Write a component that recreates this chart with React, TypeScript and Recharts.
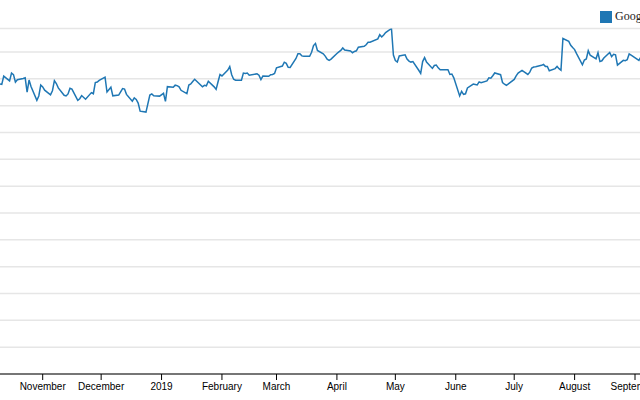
import { LineChart, Line, XAxis, YAxis, CartesianGrid, Legend } from 'recharts'

// GOOG daily close, Oct 2018 - Sep 2019
const dates = [
  '2018-10-10', '2018-10-11', '2018-10-12', '2018-10-15', '2018-10-16', '2018-10-17', '2018-10-18', '2018-10-19', '2018-10-22', '2018-10-23', '2018-10-24', '2018-10-25', '2018-10-26', '2018-10-29', '2018-10-30', '2018-10-31',
  '2018-11-01', '2018-11-02', '2018-11-05', '2018-11-06', '2018-11-07', '2018-11-08', '2018-11-09', '2018-11-12', '2018-11-13', '2018-11-14', '2018-11-15', '2018-11-16', '2018-11-19', '2018-11-20', '2018-11-21', '2018-11-23', '2018-11-26', '2018-11-27', '2018-11-28', '2018-11-29', '2018-11-30',
  '2018-12-03', '2018-12-04', '2018-12-06', '2018-12-07', '2018-12-10', '2018-12-11', '2018-12-12', '2018-12-13', '2018-12-14', '2018-12-17', '2018-12-18', '2018-12-19', '2018-12-20', '2018-12-21', '2018-12-24', '2018-12-26', '2018-12-27', '2018-12-28', '2018-12-31',
  '2019-01-02', '2019-01-03', '2019-01-04', '2019-01-07', '2019-01-08', '2019-01-09', '2019-01-10', '2019-01-11', '2019-01-14', '2019-01-15', '2019-01-16', '2019-01-17', '2019-01-18', '2019-01-22', '2019-01-23', '2019-01-24', '2019-01-25', '2019-01-28', '2019-01-29', '2019-01-30', '2019-01-31',
  '2019-02-01', '2019-02-04', '2019-02-05', '2019-02-06', '2019-02-07', '2019-02-08', '2019-02-11', '2019-02-12', '2019-02-13', '2019-02-14', '2019-02-15', '2019-02-19', '2019-02-20', '2019-02-21', '2019-02-22', '2019-02-25', '2019-02-26', '2019-02-27', '2019-02-28',
  '2019-03-01', '2019-03-04', '2019-03-05', '2019-03-06', '2019-03-07', '2019-03-08', '2019-03-11', '2019-03-12', '2019-03-13', '2019-03-14', '2019-03-15', '2019-03-18', '2019-03-19', '2019-03-20', '2019-03-21', '2019-03-22', '2019-03-25', '2019-03-26', '2019-03-27', '2019-03-28', '2019-03-29',
  '2019-04-01', '2019-04-02', '2019-04-03', '2019-04-04', '2019-04-05', '2019-04-08', '2019-04-09', '2019-04-10', '2019-04-11', '2019-04-12', '2019-04-15', '2019-04-16', '2019-04-17', '2019-04-18', '2019-04-22', '2019-04-23', '2019-04-24', '2019-04-25', '2019-04-26', '2019-04-29', '2019-04-30',
  '2019-05-01', '2019-05-02', '2019-05-03', '2019-05-06', '2019-05-07', '2019-05-08', '2019-05-09', '2019-05-10', '2019-05-13', '2019-05-14', '2019-05-15', '2019-05-16', '2019-05-17', '2019-05-20', '2019-05-21', '2019-05-22', '2019-05-23', '2019-05-24', '2019-05-28', '2019-05-29', '2019-05-30', '2019-05-31',
  '2019-06-03', '2019-06-04', '2019-06-05', '2019-06-06', '2019-06-07', '2019-06-10', '2019-06-11', '2019-06-12', '2019-06-13', '2019-06-14', '2019-06-17', '2019-06-18', '2019-06-19', '2019-06-20', '2019-06-21', '2019-06-24', '2019-06-25', '2019-06-26', '2019-06-27', '2019-06-28',
  '2019-07-01', '2019-07-02', '2019-07-03', '2019-07-05', '2019-07-08', '2019-07-09', '2019-07-10', '2019-07-11', '2019-07-12', '2019-07-15', '2019-07-16', '2019-07-17', '2019-07-18', '2019-07-19', '2019-07-22', '2019-07-23', '2019-07-24', '2019-07-25', '2019-07-26', '2019-07-29', '2019-07-30', '2019-07-31',
  '2019-08-01', '2019-08-02', '2019-08-05', '2019-08-06', '2019-08-07', '2019-08-08', '2019-08-09', '2019-08-12', '2019-08-13', '2019-08-14', '2019-08-15', '2019-08-16', '2019-08-19', '2019-08-20', '2019-08-21', '2019-08-22', '2019-08-23', '2019-08-26', '2019-08-27', '2019-08-28', '2019-08-29', '2019-08-30',
  '2019-09-03', '2019-09-04', '2019-09-05',
]

const googClose = [
  1081.22, 1079.32, 1110.08, 1092.25, 1121.28, 1115.69, 1087.97, 1096.46, 1101.16, 1103.69, 1050.71, 1095.57, 1071.47, 1020.08, 1036.21, 1076.77,
  1070.0, 1057.79, 1040.09, 1055.81, 1093.39, 1082.4, 1066.15, 1038.63, 1036.05, 1043.66, 1064.71, 1061.49, 1020.0, 1025.76, 1037.61, 1023.88, 1048.62, 1044.41, 1086.23, 1088.3, 1094.43,
  1106.43, 1050.82, 1068.73, 1036.58, 1039.55, 1051.75, 1063.68, 1061.9, 1042.1, 1016.53, 1028.71, 1023.01, 1009.41, 979.54, 976.22, 1039.46, 1043.88, 1037.08, 1035.61,
  1045.85, 1016.06, 1070.71, 1068.39, 1076.28, 1074.66, 1070.33, 1057.19, 1044.69, 1077.15, 1080.97, 1089.9, 1098.26, 1070.52, 1075.57, 1073.9, 1090.99, 1070.08, 1060.62, 1089.06, 1116.37,
  1110.75, 1132.8, 1145.99, 1115.23, 1098.71, 1095.06, 1095.01, 1121.37, 1120.16, 1121.67, 1113.65, 1118.56, 1113.8, 1096.97, 1110.37, 1109.4, 1115.13, 1116.05, 1119.92,
  1140.99, 1147.8, 1162.03, 1157.86, 1143.3, 1142.32, 1175.76, 1193.2, 1193.32, 1185.55, 1184.46, 1184.26, 1198.85, 1223.97, 1231.54, 1205.5, 1193.0, 1184.62, 1173.02, 1168.49, 1173.31,
  1194.43, 1200.49, 1205.92, 1215.0, 1207.15, 1203.84, 1197.25, 1202.16, 1204.62, 1217.87, 1221.1, 1227.13, 1236.34, 1236.37, 1248.84, 1264.55, 1256.0, 1263.45, 1272.18, 1287.58, 1188.48,
  1168.08, 1162.61, 1185.4, 1189.39, 1174.1, 1166.27, 1162.38, 1164.27, 1132.03, 1120.44, 1164.21, 1178.98, 1162.3, 1138.85, 1149.63, 1151.42, 1140.77, 1133.47, 1134.15, 1116.46, 1117.95, 1103.63,
  1036.23, 1053.05, 1042.22, 1044.34, 1066.04, 1080.38, 1078.72, 1077.03, 1088.77, 1085.35, 1092.5, 1103.6, 1102.33, 1111.42, 1121.88, 1115.52, 1086.35, 1079.8, 1076.01, 1080.91,
  1097.95, 1111.25, 1121.58, 1131.59, 1116.35, 1124.83, 1140.48, 1144.21, 1144.9, 1150.34, 1153.58, 1146.35, 1146.33, 1130.1, 1138.07, 1146.21, 1137.81, 1132.12, 1250.41, 1239.41, 1225.14, 1216.68,
  1209.01, 1193.99, 1152.32, 1169.95, 1173.99, 1204.8, 1188.01, 1174.71, 1197.27, 1164.29, 1167.26, 1177.6, 1198.45, 1182.69, 1191.25, 1189.53, 1151.29, 1168.89, 1167.84, 1171.02, 1192.85, 1188.1,
  1168.39, 1181.41, 1211.38,
]

const monthTicks = [
  '2018-11-01', '2018-12-01', '2019-01-01', '2019-02-01', '2019-03-01', '2019-04-01',
  '2019-05-01', '2019-06-01', '2019-07-01', '2019-08-01', '2019-09-01',
]
const monthLabels = [
  'November', 'December', '2019', 'February', 'March', 'April',
  'May', 'June', 'July', 'August', 'September',
]
const priceTicks = [0, 100, 200, 300, 400, 500, 600, 700, 800, 900, 1000, 1100, 1200]
const seriesName = 'Google'

const BLUE = '#1f77b4'
const DAY = 86400000
const toTime = (d: string) => new Date(d + 'T00:00:00Z').getTime()

// visible window of the (cropped) chart
const xStart = toTime('2018-10-10') + 0.085 * DAY
const xEnd = toTime('2019-09-03') + 0.56 * DAY

const chartData = dates.map((d, i) => ({ t: toTime(d), close: googClose[i] }))
const tickTimes = monthTicks.map(toTime)

function monthLabel(v: number) {
  const i = tickTimes.indexOf(v)
  return i >= 0 ? monthLabels[i] : ''
}

function LegendBox() {
  return (
    <div style={{ display: 'flex', alignItems: 'center', whiteSpace: 'nowrap' }}>
      <span style={{ width: 12, height: 12, background: BLUE, display: 'inline-block' }} />
      <span style={{ marginLeft: 3, fontSize: 12, fontFamily: 'serif', color: '#222' }}>{seriesName}</span>
    </div>
  )
}

export default function App() {
  return (
    <div style={{ position: 'absolute', left: 0, top: 0, width: 640, height: 400, overflow: 'hidden', background: '#fff' }}>
      <LineChart width={640} height={400} data={chartData} margin={{ top: 28.5, right: 0, bottom: 0, left: 0 }}>
        <CartesianGrid vertical={false} stroke="#e6e6e6" strokeWidth={1.5} />
        <XAxis
          dataKey="t"
          type="number"
          domain={[xStart, xEnd]}
          allowDataOverflow
          ticks={tickTimes}
          interval={0}
          tickFormatter={monthLabel}
          height={26}
          tickSize={6}
          tickMargin={3}
          stroke="#000"
          tick={{ fontSize: 10, fill: '#000', fontFamily: 'Liberation Sans, Arial, sans-serif' }}
        />
        <YAxis hide domain={[0, 'dataMax']} allowDataOverflow ticks={priceTicks} />
        <Legend
          layout="horizontal"
          verticalAlign="middle"
          align="center"
          wrapperStyle={{ top: 9, left: 600, width: 120 }}
          content={LegendBox}
        />
        <Line
          type="linear"
          dataKey="close"
          name={seriesName}
          stroke={BLUE}
          strokeWidth={1.5}
          dot={false}
          isAnimationActive={false}
        />
      </LineChart>
    </div>
  )
}
